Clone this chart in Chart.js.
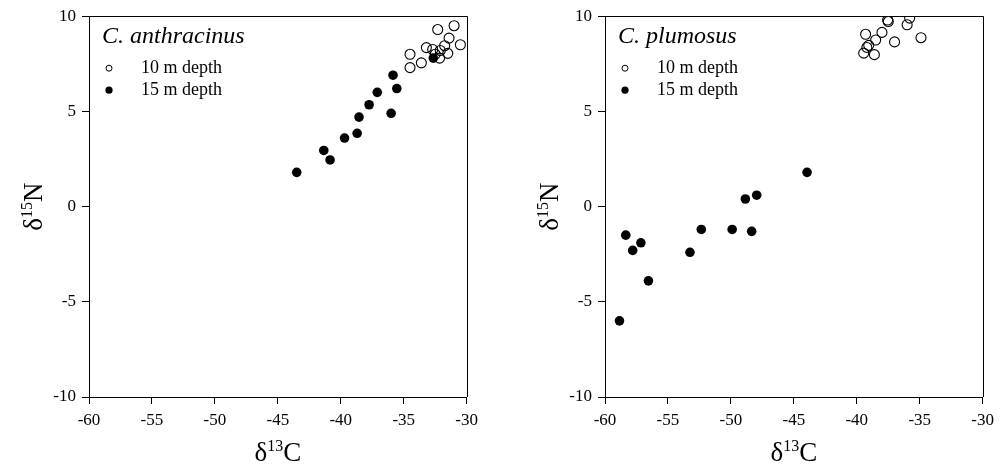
<!DOCTYPE html>
<html>
<head>
<meta charset="utf-8">
<script src="https://cdn.jsdelivr.net/npm/chart.js@4"></script>
<style>
    html, body { margin: 0; padding: 0; background: #fff; }
    #wrap { position: relative; width: 1000px; height: 471px; overflow: hidden; }
    .panel { position: absolute; top: 0; width: 484px; height: 471px; }
</style>
</head>
<body>
<div id="wrap">
    <div class="panel" style="left:0"><canvas id="left" width="484" height="471"></canvas></div>
    <div class="panel" style="left:516px"><canvas id="right" width="484" height="471"></canvas></div>
</div>
<script>
// Axis ticks (same on both panels)
var X_TICKS = [-60, -55, -50, -45, -40, -35, -30];
var Y_TICKS = [-10, -5, 0, 5, 10];

// C. anthracinus, 10 m depth (open circles)
var anth10X = [-32.3, -31.0, -31.4, -33.2, -32.7, -34.5, -33.6, -34.5, -30.5, -31.75, -31.5, -32.15, -32.1, -32.5];
var anth10Y = [9.3, 9.5, 8.85, 8.35, 8.25, 8.0, 7.55, 7.3, 8.5, 8.45, 8.05, 7.8, 8.2, 8.0];
// C. anthracinus, 15 m depth (filled circles)
var anth15X = [-43.5, -41.35, -40.85, -39.7, -38.7, -38.55, -37.75, -37.1, -36.0, -35.85, -35.55, -32.65];
var anth15Y = [1.8, 2.95, 2.45, 3.6, 3.85, 4.7, 5.35, 6.0, 4.9, 6.9, 6.2, 7.8];

// C. plumosus, 10 m depth
var plum10X = [-37.5, -37.55, -35.8, -36.0, -38.0, -39.3, -38.5, -37.0, -34.9, -39.05, -39.2, -39.45, -38.6];
var plum10Y = [9.72, 9.8, 9.9, 9.55, 9.15, 9.05, 8.75, 8.65, 8.87, 8.47, 8.36, 8.06, 7.98];
// C. plumosus, 15 m depth
var plum15X = [-43.95, -47.95, -48.85, -48.35, -49.9, -52.35, -53.25, -58.35, -57.15, -57.8, -56.55, -58.85];
var plum15Y = [1.8, 0.6, 0.4, -1.3, -1.2, -1.2, -2.4, -1.5, -1.9, -2.3, -3.9, -6.0];

var SERIF = '"Liberation Serif", "DejaVu Serif", serif';

function toPoints(xs, ys) {
    return xs.map(function (x, i) { return { x: x, y: ys[i] }; });
}

// draws text pieces, some of them raised as superscript
function drawParts(ctx, parts, x, y) {
    var total = 0;
    parts.forEach(function (p) {
        ctx.font = (p.sup ? '16px ' : '27px ') + SERIF;
        p.w = ctx.measureText(p.t).width;
        total += p.w;
    });
    var cx = x - total / 2;
    parts.forEach(function (p) {
        ctx.font = (p.sup ? '16px ' : '27px ') + SERIF;
        ctx.fillText(p.t, cx, p.sup ? y - 10 : y);
        cx += p.w;
    });
}

var decorPlugin = {
    id: 'decor',
    afterDraw: function (chart, args, opts) {
        var ctx = chart.ctx;
        var a = chart.chartArea;
        ctx.save();
        ctx.strokeStyle = '#000';
        ctx.lineWidth = 1;
        // top and right frame lines
        ctx.beginPath();
        ctx.moveTo(Math.round(a.left), Math.round(a.top) + 0.5);
        ctx.lineTo(Math.round(a.right) + 0.5, Math.round(a.top) + 0.5);
        ctx.lineTo(Math.round(a.right) + 0.5, Math.round(a.bottom));
        ctx.stroke();

        ctx.fillStyle = '#000';
        ctx.textBaseline = 'alphabetic';
        ctx.textAlign = 'left';

        // species name and depth key
        ctx.font = 'italic 24px ' + SERIF;
        ctx.fillText(opts.species, a.left + 13, a.top + 27);

        ctx.font = '18px ' + SERIF;
        ctx.fillText('10 m depth', a.left + 52, a.top + 57);
        ctx.fillText('15 m depth', a.left + 52, a.top + 79);

        ctx.beginPath();
        ctx.arc(a.left + 20, a.top + 52, 3, 0, Math.PI * 2);
        ctx.stroke();
        ctx.beginPath();
        ctx.arc(a.left + 20, a.top + 74, 3.6, 0, Math.PI * 2);
        ctx.fill();

        // axis titles
        drawParts(ctx, [{ t: 'δ' }, { t: '13', sup: true }, { t: 'C' }], (a.left + a.right) / 2, 461);

        ctx.translate(42, (a.top + a.bottom) / 2);
        ctx.rotate(-Math.PI / 2);
        drawParts(ctx, [{ t: 'δ' }, { t: '15', sup: true }, { t: 'N' }], 0, 0);
        ctx.restore();
    }
};

function makeChart(id, species, open, filled) {
    var ctx = document.getElementById(id).getContext('2d');
    return new Chart(ctx, {
        type: 'scatter',
        data: {
            datasets: [
                {
                    label: '10 m depth',
                    data: open,
                    order: 0,
                    pointRadius: 5,
                    pointBorderWidth: 1.1,
                    pointBorderColor: '#000',
                    pointBackgroundColor: 'rgba(0,0,0,0)'
                },
                {
                    label: '15 m depth',
                    data: filled,
                    order: 1,
                    pointRadius: 4.8,
                    pointBorderWidth: 0,
                    pointBorderColor: '#000',
                    pointBackgroundColor: '#000'
                }
            ]
        },
        options: {
            responsive: false,
            animation: false,
            layout: { padding: { top: 15, right: 14, left: 0, bottom: 0 } },
            plugins: {
                legend: { display: false },
                tooltip: { enabled: false },
                decor: { species: species }
            },
            scales: {
                x: {
                    type: 'linear',
                    min: -60,
                    max: -30,
                    afterBuildTicks: function (s) { s.ticks = X_TICKS.map(function (v) { return { value: v }; }); },
                    afterFit: function (s) { s.height = 74; },
                    border: { display: true, color: '#000', width: 1 },
                    grid: { display: true, drawOnChartArea: false, drawTicks: true, tickLength: 7, color: '#000' },
                    ticks: { color: '#000', font: { family: SERIF, size: 17 }, padding: 6, maxRotation: 0, autoSkip: false }
                },
                y: {
                    type: 'linear',
                    min: -10,
                    max: 10,
                    afterBuildTicks: function (s) { s.ticks = Y_TICKS.map(function (v) { return { value: v }; }); },
                    afterFit: function (s) { s.width = 89; },
                    border: { display: true, color: '#000', width: 1 },
                    grid: { display: true, drawOnChartArea: false, drawTicks: true, tickLength: 7, color: '#000' },
                    ticks: { color: '#000', font: { family: SERIF, size: 17 }, padding: 6, autoSkip: false }
                }
            }
        },
        plugins: [decorPlugin]
    });
}

makeChart('left', 'C. anthracinus', toPoints(anth10X, anth10Y), toPoints(anth15X, anth15Y));
makeChart('right', 'C. plumosus', toPoints(plum10X, plum10Y), toPoints(plum15X, plum15Y));
</script>
</body>
</html>
